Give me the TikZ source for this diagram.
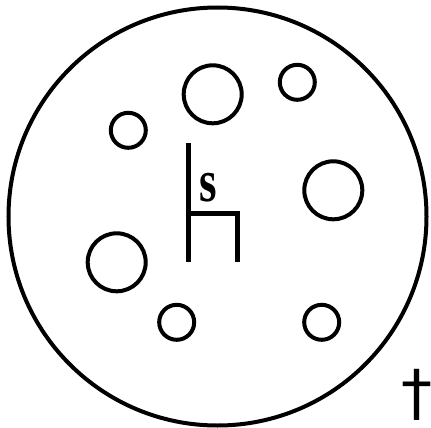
\documentclass[tikz,border=0pt]{standalone}
\usepackage{fontspec}
\newfontfamily\daggerfont{DejaVu Sans}
\newfontfamily\labelfont{Liberation Serif}
\usepackage{tikz}
\usetikzlibrary{positioning}

\begin{document}
\begin{tikzpicture}[x=1pt, y=-1pt,
            pore/.style={circle, draw, line width=4pt, inner sep=0pt},
            big/.style={pore, minimum size=58pt},
            small/.style={pore, minimum size=35pt},
            wall/.style={line width=5pt}
        ]
            \useasboundingbox (0,0) rectangle (431,428);

            % outer cell
            \node[circle, draw, line width=4pt, inner sep=0pt, minimum size=418pt] (cell) at (217.5,216.5) {};

            % pores
            \node[big] (p1) at (212.7,94.3) {};
            \node[small] (p2) at (297.3,82.3) {};
            \node[small] (p3) at (128.3,130.3) {};
            \node[big] (p4) at (333.3,190.3) {};
            \node[big] (p5) at (116.7,262.3) {};
            \node[small] (p6) at (176.7,322.3) {};
            \node[small] (p7) at (321.7,322.3) {};

            % the s-shaped wall
            \coordinate (w1) at (188.7,143.3);
            \coordinate (w2) at (188.7,262.3);
            \coordinate (w3) at (188.7,213.3);
            \coordinate (w4) at (237.3,213.3);
            \coordinate (w5) at (237.3,262.3);
            \draw[wall] (w1) -- (w2);
            \draw[wall] (w3) -- (w4) -- (w5);
            \node[font=\labelfont\bfseries\fontsize{60}{60}\selectfont, inner sep=0pt] (s) at (208.3,188) {\scalebox{0.75}[1]{s}};

            % dagger
            \node[font=\daggerfont\fontsize{62}{62}\selectfont, inner sep=0pt] (d) at (416.5,395) {†};
        \end{tikzpicture}
\end{document}
